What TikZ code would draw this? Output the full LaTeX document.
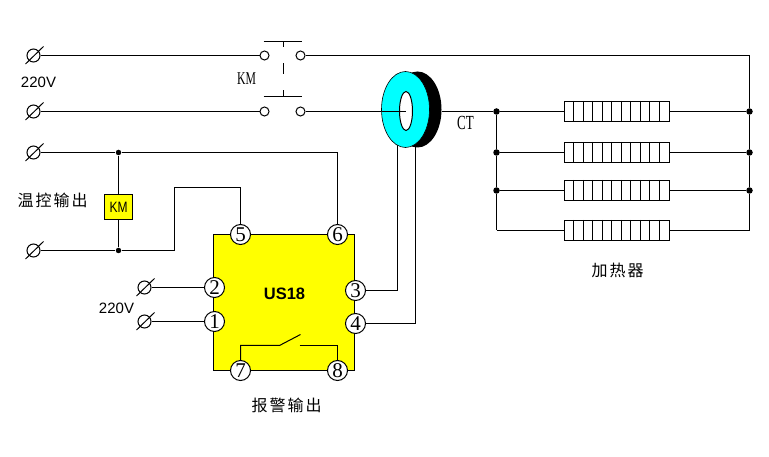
\documentclass[tikz,border=0pt]{standalone}
\usepackage{fontspec}
\setmainfont{Liberation Serif}
\setsansfont{Liberation Sans}
\newfontfamily\cjk[LetterSpace=12.5]{Noto Sans CJK SC}
\definecolor{usyellow}{RGB}{255,255,0}
\definecolor{ctcyan}{RGB}{0,255,255}
\usetikzlibrary{shapes.geometric}

\begin{document}
\begin{tikzpicture}[x=1pt, y=-1pt, line width=1pt,
    term/.style={circle, draw, inner sep=0pt, minimum size=13pt},
    pin/.style={circle, draw, fill=white, inner sep=0pt, minimum size=20pt, font=\fontsize{21}{21}\selectfont},
    contact/.style={circle, draw, fill=white, inner sep=0pt, minimum size=9pt},
    dot/.style={circle, fill=black, inner sep=0pt, minimum size=6.5pt},
    heater/.style={rectangle, draw, inner sep=0pt, minimum width=105pt, minimum height=20pt},
    narrow/.style={font=\fontsize{18}{18}\selectfont, xscale=.65, transform shape},
    volt/.style={font=\sffamily\fontsize{15}{15}\selectfont},
    cn/.style={font=\cjk\fontsize{16}{16}\selectfont}]
  \useasboundingbox (-.5,-.5) rectangle (768.5,456.5);

  % module
  \node (us) [rectangle, draw, fill=usyellow, inner sep=0pt, minimum width=141pt, minimum height=136pt] at (283.5,302) {};
  \node (ustext) [font=\sffamily\bfseries\fontsize{16.5}{17}\selectfont] at (284,293) {US18};

  % pins
  \foreach \n/\x/\y in {1/214/321, 2/214/287, 3/355/290, 4/355/323, 5/240/234, 6/337/234, 7/240/370, 8/337/370}
    \node (p\n) [pin] at (\x,\y) {\n};

  % terminals
  \foreach \n/\x/\y in {a/33/55, b/33/111, c/33/152, d/33/250, e/144/287, f/144/321} {
    \node (t\n) [term] at (\x,\y) {};
    \draw ([shift={(-8,8.5)}]t\n.center) -- ([shift={(10,-9)}]t\n.center);
  }

  % contactor
  \foreach \n/\x/\y in {la/264/55, ra/300/55, lb/264/111, rb/300/111}
    \node (k\n) [contact] at (\x,\y) {};
  \coordinate (kta) at (263,41);
  \coordinate (ktb) at (301,41);
  \coordinate (kba) at (263,96);
  \coordinate (kbb) at (301,96);
  \draw (kta) -- (ktb);
  \draw (kba) -- (kbb);
  \draw (283,41) -- (283,47);
  \draw (283,63) -- (283,74);
  \draw (283,90) -- (283,96);
  \node (kmtext) [narrow] at (246,78) {KM};
  \node (v1) [volt] at (38,82) {220V};
  \node (v2) [volt] at (116,308) {220V};

  % control side
  \node (j1) [dot, minimum size=5.5pt] at (118,152) {};
  \node (j2) [dot, minimum size=5.5pt] at (118,250) {};
  \node (coil) [rectangle, draw, fill=usyellow, inner sep=0pt, minimum width=28pt, minimum height=25pt, font=\sffamily\fontsize{15}{15}\selectfont] at (118,206.5) {\scalebox{.8}[1]{KM}};
  \draw (ta) -- (kla);
  \draw (tb) -- (klb);
  \draw (tc) -- (j1) -- (coil) -- (j2);
  \draw (td) -- (j2);
  \draw (j1) -| (p6);
  \coordinate (bend) at (174,187);
  \draw (j2) -| (bend) -| (p5);
  \draw (te) -- (p2);
  \draw (tf) -- (p1);

  % relay contact
  \coordinate (swa) at (279,345);
  \coordinate (swb) at (300,334);
  \coordinate (swc) at (299,345);
  \draw (p7) |- (swa) -- (swb);
  \draw (swc) -| (p8);

  % heaters
  \foreach \n/\y in {1/111, 2/152, 3/190, 4/230} {
    \node (h\n) [heater] at (616.5,\y) {};
    \foreach \i in {9,19,28,38,47,57,66,76,85,95}
      \draw ([xshift=\i pt]h\n.north west) -- ([xshift=\i pt]h\n.south west);
  }
  \foreach \n/\y in {1/111, 2/152, 3/190} {
    \node (l\n) [dot] at (496,\y) {};
    \node (r\n) [dot] at (749,\y) {};
    \draw (l\n) -- (h\n);
    \draw (h\n) -- (r\n);
  }
  \coordinate (l4) at (496,230);
  \coordinate (r4) at (749,230);
  \draw (l4) -- (h4);
  \draw (h4) -- (r4);
  \draw (l1) -- (l2) -- (l3) -- (l4);
  \draw (kra) -| (r1);
  \draw (r1) -- (r2) -- (r3) -- (r4);
  \node (heatertext) [cn] at (617,270) {加热器};

  % current transformer
  \coordinate (cta) at (397,140);
  \coordinate (ctb) at (415,140);
  \draw (p3) -| (cta);
  \draw (p4) -| (ctb);
  \draw (krb) -- (381,111);
  \fill[black] (417,109) ellipse [x radius=24, y radius=38];
  \draw[fill=ctcyan, line width=.6pt] (405,109) ellipse [x radius=24, y radius=38];
  \draw[fill=white] (405.5,110.5) ellipse [x radius=6.5, y radius=19.5];
  \coordinate (cto) at (405,111);
  \draw (381,111) -- (cto);
  \draw (441,111) -- (l1);
  \node (cttext) [narrow, font=\fontsize{20}{20}\selectfont] at (465,122) {CT};

  % captions
  \node (tctext) [cn] at (52,200) {温控输出};
  \node (alarmtext) [cn] at (286,405) {报警输出};
\end{tikzpicture}
\end{document}
